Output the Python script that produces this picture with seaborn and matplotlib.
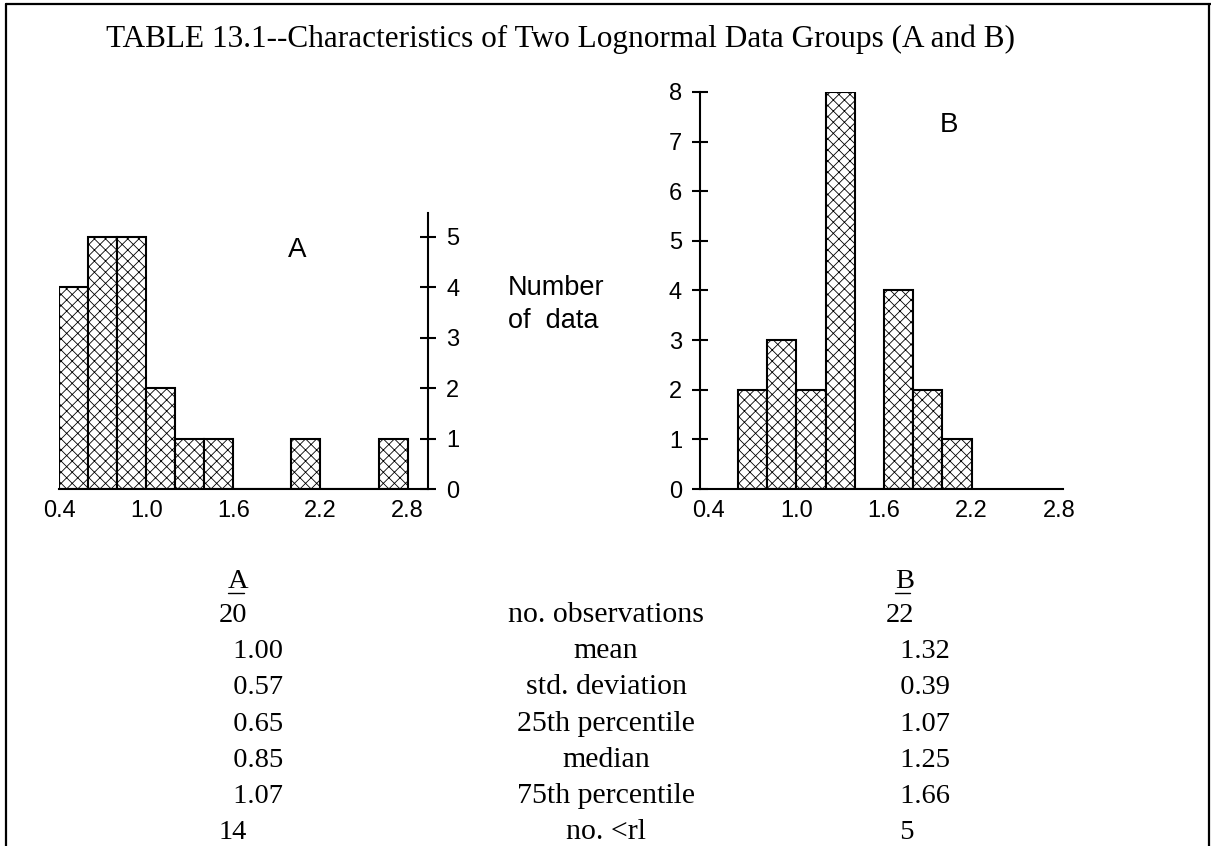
import numpy as np
import matplotlib
matplotlib.use("Agg")
import matplotlib.pyplot as plt
from matplotlib.lines import Line2D
import seaborn as sns

# --- datos ---
edges_a = [0.4, 0.6, 0.8, 1.0, 1.2, 1.4, 1.6, 1.8, 2.0, 2.2, 2.4, 2.6, 2.8]
counts_a = [4, 5, 5, 2, 1, 1, 0, 0, 1, 0, 0, 1]
edges_b = [0.6, 0.8, 1.0, 1.2, 1.4, 1.6, 1.8, 2.0, 2.2]
counts_b = [2, 3, 2, 8, 0, 4, 2, 1]

xticks = [0.4, 1.0, 1.6, 2.2, 2.8]
xtick_labels = ["0.4", "1.0", "1.6", "2.2", "2.8"]
yticks_a = [0, 1, 2, 3, 4, 5]
yticks_b = [0, 1, 2, 3, 4, 5, 6, 7, 8]

stat_names = ["no. observations", "mean", "std. deviation", "25th percentile",
              "median", "75th percentile", "no. <rl"]
stats_a = ["20", "  1.00", "  0.57", "  0.65", "  0.85", "  1.07", "14"]
stats_b = ["22", "  1.32", "  0.39", "  1.07", "  1.25", "  1.66", "  5"]

title = "TABLE 13.1--Characteristics of Two Lognormal Data Groups (A and B)"

sns.set_style("ticks")
plt.rcParams["font.family"] = ["Liberation Sans", "DejaVu Sans"]
plt.rcParams["hatch.linewidth"] = 0.6
for k in ("text.color", "axes.labelcolor", "xtick.color", "ytick.color",
          "axes.edgecolor"):
    plt.rcParams[k] = "black"
SERIF = ["Liberation Serif", "DejaVu Serif"]

W, H = 1211, 846
fig = plt.figure(figsize=(W / 100, H / 100), dpi=100)
fig.patch.set_facecolor("white")


def fx(px):
    return px / W


def fy(py):
    return 1 - py / H


axA = fig.add_axes([fx(59), fy(489), (428 - 59) / W, (489 - 213) / H])
axB = fig.add_axes([fx(700), fy(489), (1063 - 700) / W, (489 - 92) / H])

bar_kw = dict(stat="count", facecolor="white", edgecolor="black",
              linewidth=1.5, hatch="xxx", alpha=1)

centers_a = [(lo + hi) / 2 for lo, hi in zip(edges_a[:-1], edges_a[1:])]
centers_b = [(lo + hi) / 2 for lo, hi in zip(edges_b[:-1], edges_b[1:])]
sns.histplot(x=centers_a, weights=counts_a, bins=edges_a, ax=axA, **bar_kw)
sns.histplot(x=centers_b, weights=counts_b, bins=edges_b, ax=axB, **bar_kw)

# --- panel A: eje y a la derecha ---
axA.set_xlim(0.4, 2.94)
axA.set_ylim(0, 5.47)
axA.yaxis.tick_right()
axA.spines["left"].set_visible(False)
axA.spines["top"].set_visible(False)
axA.spines["right"].set_visible(True)

# --- panel B: eje y a la izquierda ---
axB.set_xlim(0.34, 2.826)
axB.set_ylim(0, 8)
axB.spines["right"].set_visible(False)
axB.spines["top"].set_visible(False)

for ax, yt in ((axA, yticks_a), (axB, yticks_b)):
    ax.set_xlabel("")
    ax.set_ylabel("")
    ax.set_xticks(xticks)
    ax.set_xticklabels(xtick_labels)
    ax.set_yticks(yt)
    ax.set_yticklabels([str(v) for v in yt])
    ax.tick_params(axis="x", length=0, pad=8, labelsize=17, labelcolor="black")
    ax.tick_params(axis="y", direction="inout", length=12, width=1.5,
                   pad=7, labelsize=17, labelcolor="black", color="black")
    for s in ax.spines.values():
        s.set_linewidth(1.5)
        s.set_color("black")
    ax.set_facecolor("none")

axA.text(2.04, 4.73, "A", fontsize=20, ha="center", va="center")
axB.text(2.045, 7.34, "B", fontsize=20, ha="center", va="center")

fig.text(fx(508), fy(295), "Number", fontsize=19.5, ha="left", va="baseline")
fig.text(fx(508), fy(328), "of  data", fontsize=19.5, ha="left", va="baseline")

# --- titulo ---
fig.text(fx(560), fy(47), title, family=SERIF, fontsize=22.5,
         ha="center", va="baseline")

# --- tabla de estadisticas ---
fig.text(fx(228), fy(588), "A", family=SERIF, fontsize=20.5, va="baseline")
fig.text(fx(895), fy(588), "B", family=SERIF, fontsize=20.5, va="baseline")
fig.add_artist(Line2D([fx(228), fx(244)], [fy(593), fy(593)], color="black", lw=1))
fig.add_artist(Line2D([fx(895), fx(910)], [fy(593), fy(593)], color="black", lw=1))

row_y0, row_dy = 622, 36.2
for i, (name, a, b) in enumerate(zip(stat_names, stats_a, stats_b)):
    y = fy(row_y0 + i * row_dy)
    fig.text(fx(219), y, a, family=SERIF, fontsize=20.5, ha="left", va="baseline")
    fig.text(fx(606), y, name, family=SERIF, fontsize=21.5, ha="center", va="baseline")
    fig.text(fx(886), y, b, family=SERIF, fontsize=20.5, ha="left", va="baseline")

# --- marco ---
for xs, ys in (([6, 6], [4, H]), ([6, W], [4, 4]), ([1209, 1209], [4, H])):
    fig.add_artist(Line2D([fx(v) for v in xs], [fy(v) for v in ys],
                          color="black", lw=1.6))

fig.savefig("out.png", dpi=100, facecolor="white")
